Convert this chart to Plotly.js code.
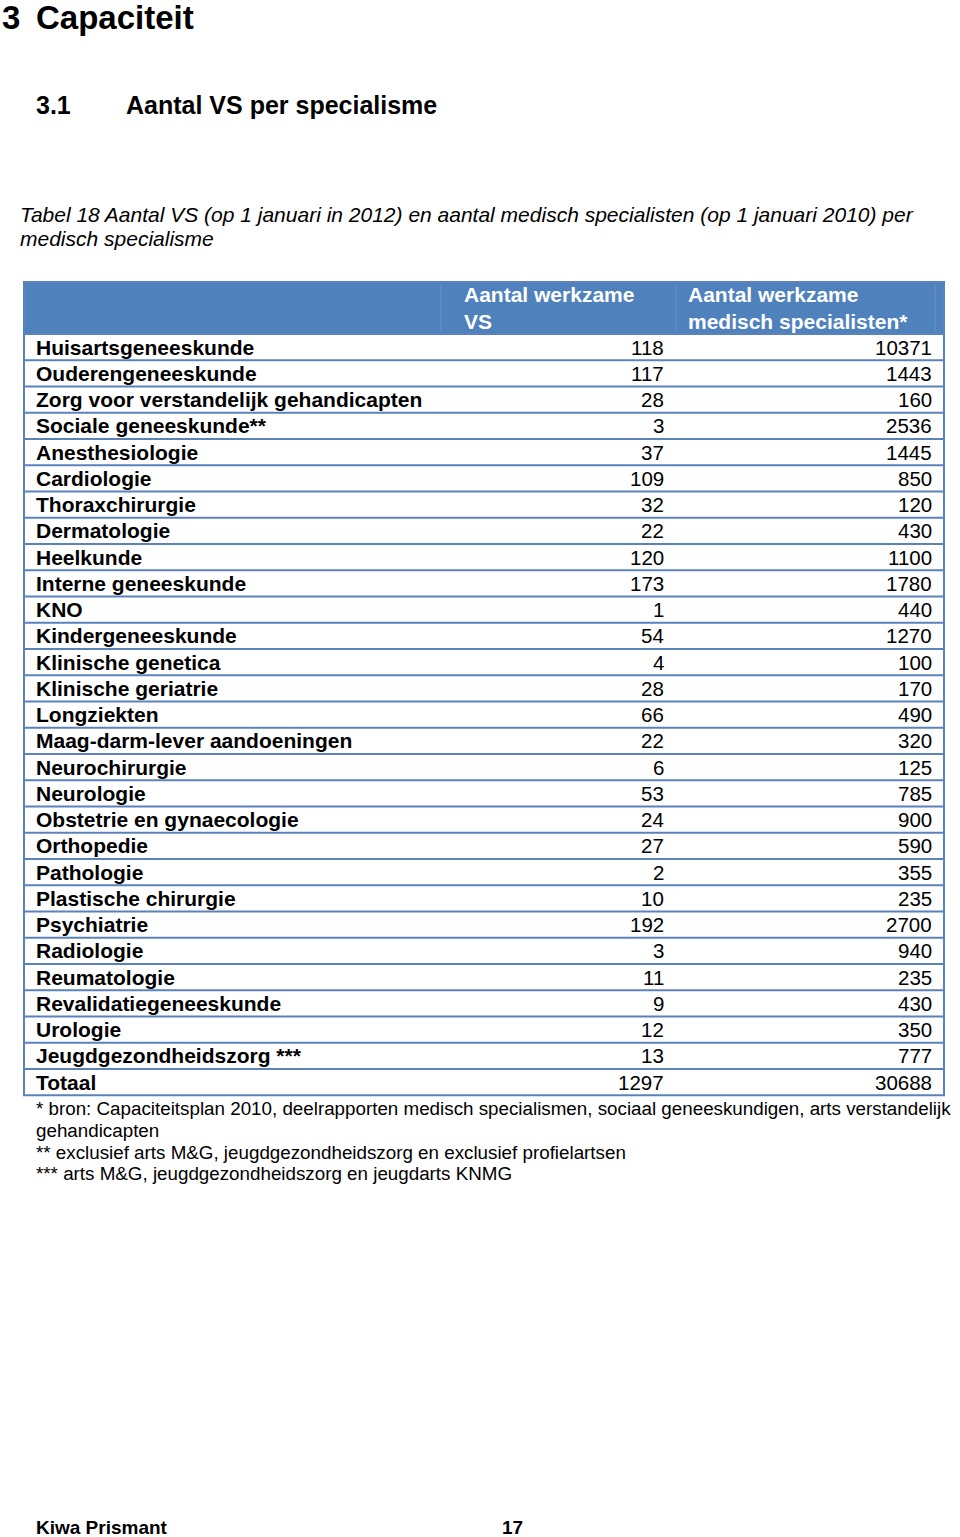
<!DOCTYPE html>
<html>
<head>
<meta charset="utf-8">
<script src="https://cdn.plot.ly/plotly-3.0.1.min.js"></script>
<style>html,body{margin:0;padding:0;background:#fff;}#chart{width:960px;height:1537px;}</style>
</head>
<body>
<div id="chart"></div>
<script>
const specialismen = ["Huisartsgeneeskunde","Ouderengeneeskunde","Zorg voor verstandelijk gehandicapten","Sociale geneeskunde**","Anesthesiologie","Cardiologie","Thoraxchirurgie","Dermatologie","Heelkunde","Interne geneeskunde","KNO","Kindergeneeskunde","Klinische genetica","Klinische geriatrie","Longziekten","Maag-darm-lever aandoeningen","Neurochirurgie","Neurologie","Obstetrie en gynaecologie","Orthopedie","Pathologie","Plastische chirurgie","Psychiatrie","Radiologie","Reumatologie","Revalidatiegeneeskunde","Urologie","Jeugdgezondheidszorg ***"];
const aantalVS = [118,117,28,3,37,109,32,22,120,173,1,54,4,28,66,22,6,53,24,27,2,10,192,3,11,9,12,13];
const aantalMS = [10371,1443,160,2536,1445,850,120,430,1100,1780,440,1270,100,170,490,320,125,785,900,590,355,235,2700,940,235,430,350,777];
const totaalLabel = "Totaal";
const totaalVS = 1297;
const totaalMS = 30688;
const headers = ["", "Aantal werkzame<br>VS", "Aantal werkzame<br>medisch specialisten*"];
const footnotes = ["* bron: Capaciteitsplan 2010, deelrapporten medisch specialismen, sociaal geneeskundigen, arts verstandelijk","gehandicapten","** exclusief arts M&G, jeugdgezondheidszorg en exclusief profielartsen","*** arts M&G, jeugdgezondheidszorg en jeugdarts KNMG"];

const FONT = "Liberation Sans, Arial, Helvetica, sans-serif";
const lineCol = "#5b82bd";
const headFill = "#4f81bd";
const annotations = [];
const shapes = [];
const PAD = 1;

function ann(x, y, text, opts) {
  const o = Object.assign({
    xanchor: 'left', yanchor: 'middle', align: 'left',
    font: {family: FONT, size: 20, color: '#000'}
  }, opts || {});
  const dx = o.xanchor === 'left' ? -PAD : (o.xanchor === 'right' ? PAD : 0);
  annotations.push(Object.assign({
    x: x + dx, y: y, xref: 'x', yref: 'y', text: text, showarrow: false,
    borderpad: 0
  }, o));
}

// Titles
ann(2, 17, "<b>3</b>", {font: {family: FONT, size: 33, color: '#000'}});
ann(36, 17, "<b>Capaciteit</b>", {font: {family: FONT, size: 33, color: '#000'}});
ann(36, 105, "<b>3.1</b>", {font: {family: FONT, size: 25, color: '#000'}});
ann(126, 105, "<b>Aantal VS per specialisme</b>", {font: {family: FONT, size: 25, color: '#000'}});
ann(20, 214, "<i>Tabel 18 Aantal VS (op 1 januari in 2012) en aantal medisch specialisten (op 1 januari 2010) per</i>", {font: {family: FONT, size: 21, color: '#000'}});
ann(20, 238, "<i>medisch specialisme</i>", {font: {family: FONT, size: 21, color: '#000'}});

// Table geometry
const L = 24, R = 944, hTop = 282, hBot = 334, rowH = 26.25;
const c1 = 36, c2r = 664, c3r = 932, h2 = 464, h3 = 688;

shapes.push({type: 'rect', xref: 'x', yref: 'y', x0: L, x1: R, y0: hTop, y1: hBot, fillcolor: headFill, line: {width: 0}, layer: 'below'});
shapes.push({type: 'line', xref: 'x', yref: 'y', x0: 441, x1: 441, y0: hTop + 3, y1: hBot - 3, line: {color: '#6a92c9', width: 1}});
shapes.push({type: 'line', xref: 'x', yref: 'y', x0: 676, x1: 676, y0: hTop + 3, y1: hBot - 3, line: {color: '#6a92c9', width: 1}});
shapes.push({type: 'line', xref: 'x', yref: 'y', x0: 935, x1: 935, y0: hTop + 3, y1: hBot - 3, line: {color: '#6a92c9', width: 1}});

ann(h2, 308, "<b>" + headers[1] + "</b>", {font: {family: FONT, size: 21, color: '#fff'}});
ann(h3, 308, "<b>" + headers[2] + "</b>", {font: {family: FONT, size: 21, color: '#fff'}});

const labels = specialismen.concat([totaalLabel]);
const vs = aantalVS.concat([totaalVS]);
const ms = aantalMS.concat([totaalMS]);
const nRows = labels.length;
for (let i = 0; i < nRows; i++) {
  const yc = hBot + rowH * (i + 0.5);
  ann(c1, yc, "<b>" + labels[i] + "</b>", {font: {family: FONT, size: 21, color: '#000'}});
  ann(c2r, yc, String(vs[i]), {xanchor: 'right', font: {family: FONT, size: 20.5, color: '#000'}});
  ann(c3r, yc, String(ms[i]), {xanchor: 'right', font: {family: FONT, size: 20.5, color: '#000'}});
  if (i < nRows - 1) {
    const yl = hBot + rowH * (i + 1);
    shapes.push({type: 'line', xref: 'x', yref: 'y', x0: L, x1: R, y0: yl, y1: yl, line: {color: lineCol, width: 2}});
  }
}
const tBot = hBot + rowH * nRows;
shapes.push({type: 'line', xref: 'x', yref: 'y', x0: L, x1: R, y0: hBot, y1: hBot, line: {color: lineCol, width: 2}});
shapes.push({type: 'rect', xref: 'x', yref: 'y', x0: L, x1: R, y0: hTop, y1: tBot, line: {color: lineCol, width: 2}});

// Footnotes
const fy = [1108, 1130, 1152, 1173];
footnotes.forEach((t, i) => ann(36, fy[i], t, {font: {family: FONT, size: 18.8, color: '#000'}}));

// Footer
ann(36, 1527, "<b>Kiwa Prismant</b>", {font: {family: FONT, size: 19, color: '#000'}});
ann(502, 1527, "<b>17</b>", {font: {family: FONT, size: 19, color: '#000'}});

const layout = {
  width: 960, height: 1537,
  margin: {l: 0, r: 0, t: 0, b: 0},
  paper_bgcolor: '#fff', plot_bgcolor: '#fff',
  xaxis: {range: [0, 960], visible: false, fixedrange: true},
  yaxis: {range: [1537, 0], visible: false, fixedrange: true},
  showlegend: false,
  annotations: annotations,
  shapes: shapes
};
Plotly.newPlot('chart', [{x: [], y: [], type: 'scatter', mode: 'markers', hoverinfo: 'skip'}], layout, {staticPlot: true, displayModeBar: false});
</script>
</body>
</html>
